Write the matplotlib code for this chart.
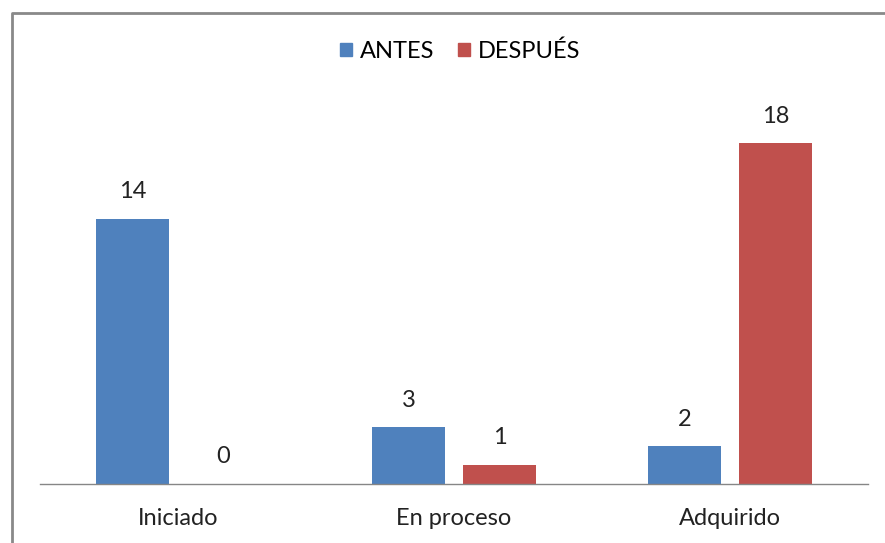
import matplotlib
matplotlib.use("Agg")
import matplotlib.pyplot as plt
from matplotlib.lines import Line2D
from matplotlib.patches import Patch
import numpy as np

categories = ["Iniciado", "En proceso", "Adquirido"]
antes = [14, 3, 2]
despues = [0, 1, 18]
series_names = ["ANTES", "DESPUÉS"]
colors = ["#4F81BD", "#C0504D"]

plt.rcParams['font.family'] = ['Lato', 'DejaVu Sans']
FS = 17

W, H = 885, 543
fig = plt.figure(figsize=(W / 100, H / 100), dpi=100)
ax = fig.add_axes([40 / W, 1 - 484 / H, 828 / W, (484 - 105.4) / H])

x = np.arange(len(categories))
bw = 0.264
off = 0.165
b1 = ax.bar(x - off, antes, bw, color=colors[0], label=series_names[0])
b2 = ax.bar(x + off, despues, bw, color=colors[1], label=series_names[1])

for bars, vals in ((b1, antes), (b2, despues)):
    for rect, v in zip(bars, vals):
        ax.annotate(str(v), (rect.get_x() + rect.get_width() / 2, v),
                    xytext=(0, 19.5), textcoords="offset points",
                    ha="center", va="center", fontsize=FS, color="#222222")

ax.set_xlim(-0.5, 2.5)
ax.set_ylim(0, 20)
ax.set_xticks(x)
ax.set_xticklabels(categories, fontsize=FS, color="#222222")
ax.tick_params(axis="x", length=0, pad=17.5)
ax.set_yticks([])
for s in ("top", "right", "left"):
    ax.spines[s].set_visible(False)
ax.spines["bottom"].set_color("#868686")
ax.spines["bottom"].set_linewidth(1.0)

handles = [Patch(color=c, label=n) for c, n in zip(colors, series_names)]
fig.legend(handles=handles, loc="center", bbox_to_anchor=(460.5 / W, 1 - 51 / H),
           ncol=2, frameon=False, fontsize=FS, handlelength=0.5, handleheight=0.5,
           handletextpad=0.35, columnspacing=1.0, borderpad=0)

# outer frame (partial, cropped chart area)
fx = 11.5 / W
fy = 1 - 12.5 / H
fig.add_artist(Line2D([fx, fx, 1.0], [0.0, fy, fy], transform=fig.transFigure,
                      color="#898989", linewidth=2))

fig.savefig("out.png", dpi=100)
